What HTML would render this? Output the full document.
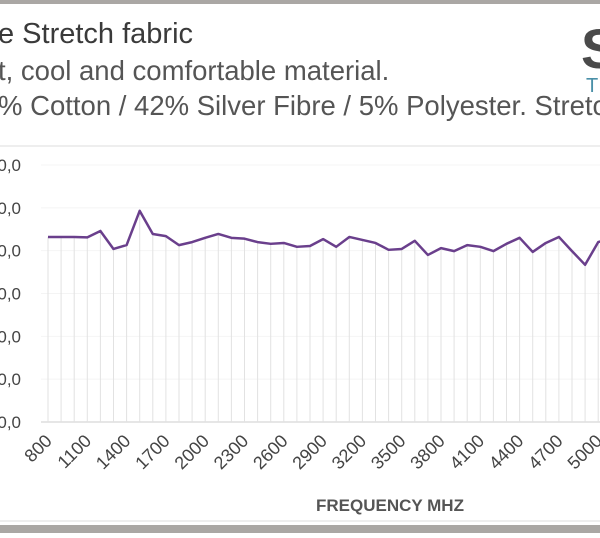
<!DOCTYPE html>
<html><head><meta charset="utf-8"><style>
html,body{margin:0;padding:0;background:#fff;}
body{width:600px;height:533px;overflow:hidden;position:relative;font-family:"Liberation Sans",sans-serif;}
</style></head><body>
<svg width="600" height="533" viewBox="0 0 600 533" xmlns="http://www.w3.org/2000/svg">
<rect x="0" y="0" width="600" height="4" fill="#aaa7a4"/>
<text x="-2" y="43" font-size="29" fill="#3a3a3a">e Stretch fabric</text>
<text x="-2" y="80" font-size="27.5" fill="#555">t, cool and comfortable material.</text>
<text x="-2" y="115" font-size="27.5" fill="#555">% Cotton / 42% Silver Fibre / 5% Polyester. Stretch</text>
<text x="581" y="68" font-size="56" font-weight="bold" fill="#4a4a4a">S</text>
<text x="586" y="92" font-size="20" fill="#4a90a8">TI</text>
<line x1="0" y1="146" x2="600" y2="146" stroke="#ddd" stroke-width="1"/>
<g id="grid"></g>
<g id="ylabels"></g>
<g id="xlabels"></g>
<path id="series" fill="none" stroke="#6a3f8c" stroke-width="2.5" stroke-linejoin="round"/>
<text x="390" y="511" font-size="17" font-weight="bold" fill="#555" text-anchor="middle">FREQUENCY MHZ</text>
<line x1="0" y1="521" x2="600" y2="521" stroke="#ddd" stroke-width="1"/>
<rect x="0" y="525" width="600" height="8" fill="#aaa7a4"/>
</svg>
<script>
const freqs = [];
for (let f = 800; f <= 5100; f += 100) freqs.push(f);
const values = [43.2,43.2,43.2,43.1,44.6,40.4,41.3,49.3,43.9,43.4,41.3,42.0,43.0,43.9,43.0,42.8,42.0,41.6,41.8,40.9,41.1,42.7,40.9,43.2,42.5,41.8,40.2,40.4,42.3,39.0,40.6,39.9,41.3,40.9,39.9,41.6,43.0,39.7,41.8,43.2,39.9,36.7,42.0,43.0];
const yTicks = [0,10,20,30,40,50,60];
const yTickLabels = ["-60,0","-50,0","-40,0","-30,0","-20,0","-10,0","-00,0"];
const xTickLabels = ["800","1100","1400","1700","2000","2300","2600","2900","3200","3500","3800","4100","4400","4700","5000"];
const NS = "http://www.w3.org/2000/svg";
function xs(f){ return 48 + (f - 800) / 100 * 13.1; }
function ys(v){ return 422 - v * (257 / 60); }
const grid = document.getElementById('grid');
yTicks.forEach(t => {
  const l = document.createElementNS(NS, 'line');
  l.setAttribute('x1', 41); l.setAttribute('x2', 600);
  l.setAttribute('y1', ys(t)); l.setAttribute('y2', ys(t));
  l.setAttribute('stroke', t === 0 ? '#ccc' : '#f4f4f4');
  
  
  grid.appendChild(l);
});
freqs.forEach((f, i) => {
  const l = document.createElementNS(NS, 'line');
  l.setAttribute('x1', xs(f)); l.setAttribute('x2', xs(f));
  l.setAttribute('y1', ys(values[i])); l.setAttribute('y2', ys(0));
  l.setAttribute('stroke', '#e2e2e2');
  
  
  grid.appendChild(l);
});
const yl = document.getElementById('ylabels');
yTicks.forEach((t, i) => {
  const tx = document.createElementNS(NS, 'text');
  tx.setAttribute('x', 21); tx.setAttribute('y', ys(t) + 6);
  tx.setAttribute('text-anchor', 'end');
  tx.setAttribute('font-size', '17'); tx.setAttribute('fill', '#444');
  tx.textContent = yTickLabels[i];
  
  
  yl.appendChild(tx);
});
const xl = document.getElementById('xlabels');
xTickLabels.forEach(lbl => {
  const x = xs(+lbl) + 5, y = 442;
  const tx = document.createElementNS(NS, 'text');
  tx.setAttribute('x', x); tx.setAttribute('y', y);
  tx.setAttribute('text-anchor', 'end');
  tx.setAttribute('font-size', '18'); tx.setAttribute('fill', '#444');
  tx.setAttribute('transform', 'rotate(-45 ' + x + ' ' + y + ')');
  tx.textContent = lbl;
  
  
  xl.appendChild(tx);
});
let d = '';
freqs.forEach((f, i) => { d += (i ? ' L' : 'M') + xs(f) + ',' + ys(values[i]); });
document.getElementById('series').setAttribute('d', d);
</script>
</body></html>
